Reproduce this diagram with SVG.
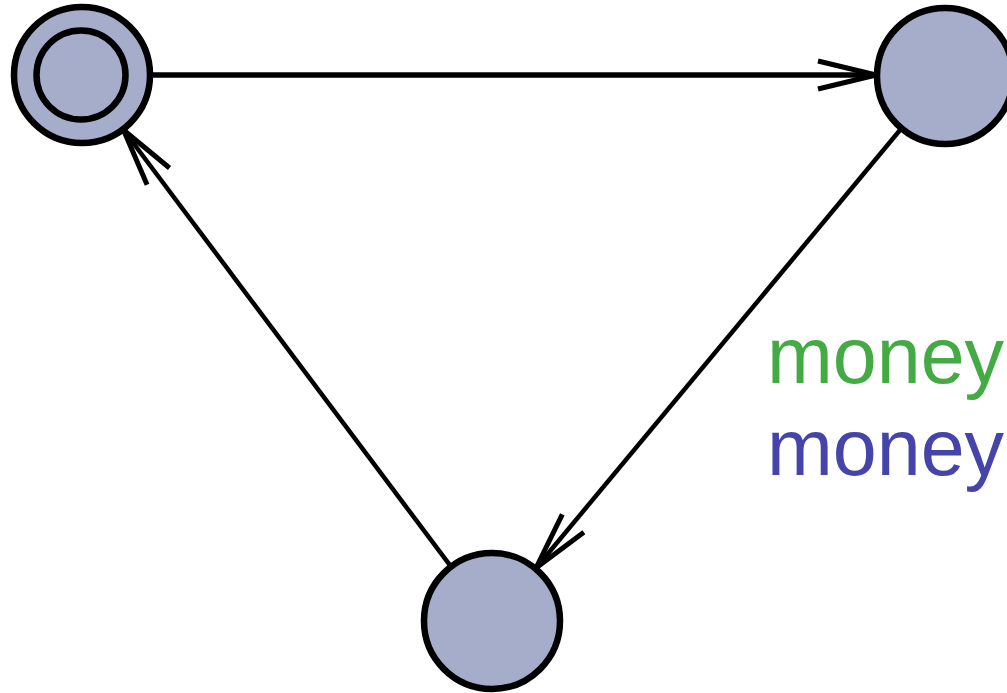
<svg xmlns="http://www.w3.org/2000/svg" width="1007" height="693" viewBox="0 0 1007 693">
<style>
.node{fill:#a5adcb;stroke:#000;stroke-width:6.5}
.edge{fill:none;stroke:#000;stroke-width:4.5}
.lbl{font-family:"Liberation Sans",Arial,sans-serif;font-size:79px}
</style>
<defs>
<marker id="arr" markerUnits="userSpaceOnUse" markerWidth="80" markerHeight="40" viewBox="-62 -20 66 40" refX="0" refY="0" orient="auto" overflow="visible">
<path d="M-58,-14 L0,0 L-58,14" fill="none" stroke="#000" stroke-width="5"/>
</marker>
</defs>
<rect width="1007" height="693" fill="#fff"/>
<g id="connectors">
<line class="edge" x1="152" y1="75" x2="876" y2="75" stroke-width="5.5" style="stroke-width:5.5" marker-end="url(#arr)"/>
<line class="edge" x1="901.5" y1="128.3" x2="536" y2="568" marker-end="url(#arr)"/>
<line class="edge" x1="451" y1="566.7" x2="123.5" y2="130" marker-end="url(#arr)"/>
</g>
<g id="node-start">
<circle class="node" cx="82" cy="75" r="68"/>
<circle class="node" cx="81" cy="75" r="44.5"/>
</g>
<g id="node-right">
<circle class="node" cx="945" cy="76" r="68"/>
</g>
<g id="node-bottom">
<circle class="node" cx="492" cy="621" r="68"/>
</g>
<g id="labels">
<text class="lbl" x="767" y="383" fill="#44aa44">money</text>
<text class="lbl" x="767" y="475" fill="#4444aa">money</text>
</g>
</svg>
